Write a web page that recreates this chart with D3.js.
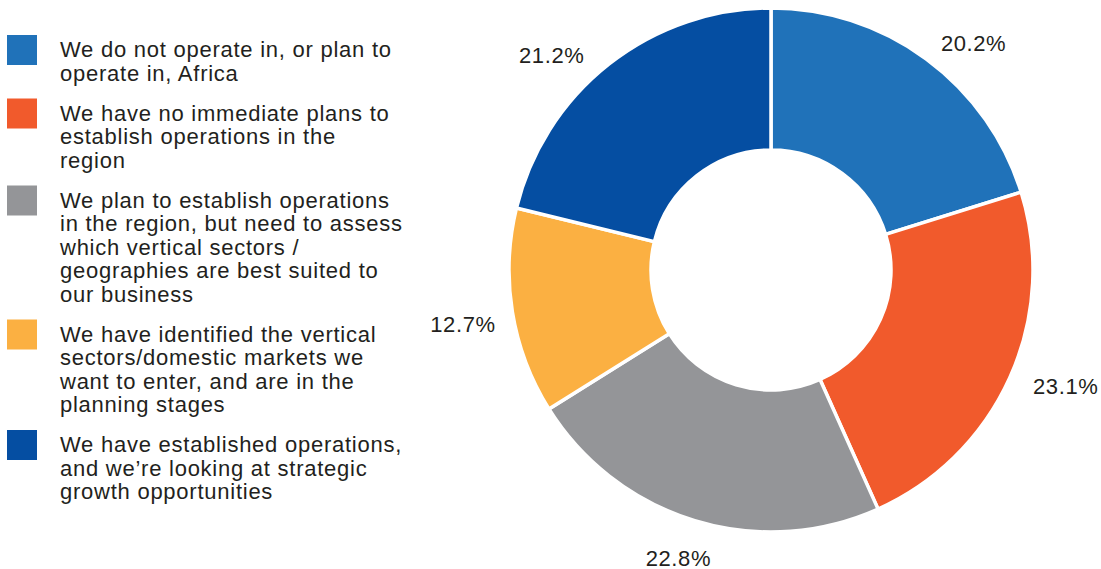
<!DOCTYPE html>
<html>
<head>
<meta charset="utf-8">
<script src="https://cdn.jsdelivr.net/npm/d3@7"></script>
<style>
  html, body { margin: 0; padding: 0; background: #ffffff; }
  svg { display: block; }
  text { font-family: "Liberation Sans", Arial, Helvetica, sans-serif; fill: #231f20; }
</style>
</head>
<body>
<svg id="chart" width="1101" height="569"></svg>
<script>
// ---- data ----
const categories = [
  "We do not operate in, or plan to operate in, Africa",
  "We have no immediate plans to establish operations in the region",
  "We plan to establish operations in the region, but need to assess which vertical sectors / geographies are best suited to our business",
  "We have identified the vertical sectors/domestic markets we want to enter, and are in the planning stages",
  "We have established operations, and we\u2019re looking at strategic growth opportunities"
];
const legendLines = [
  ["We do not operate in, or plan to", "operate in, Africa"],
  ["We have no immediate plans to", "establish operations in the", "region"],
  ["We plan to establish operations", "in the region, but need to assess", "which vertical sectors /", "geographies are best suited to", "our business"],
  ["We have identified the vertical", "sectors/domestic markets we", "want to enter, and are in the", "planning stages"],
  ["We have established operations,", "and we\u2019re looking at strategic", "growth opportunities"]
];
const values = [20.2, 23.1, 22.8, 12.7, 21.2];
const valueLabels = ["20.2%", "23.1%", "22.8%", "12.7%", "21.2%"];

// ---- styles / layout ----
const colors = ["#2072b9", "#f15a2c", "#949598", "#fbb042", "#054ea2"];
const cx = 771, cy = 270, outerR = 262, innerR = 120, labelR = 308;
const labelNudge = [[20, 21], [14, -11], [-3, -7], [-4, 5], [-29, 27]];

const svg = d3.select("#chart");
const color = d3.scaleOrdinal().domain(categories).range(colors);

const pie = d3.pie().sort(null).value(d => d.value);
const data = categories.map((c, i) => ({ cat: c, value: values[i], label: valueLabels[i], i }));
const arcs = pie(data);
const arc = d3.arc().innerRadius(innerR).outerRadius(outerR);
const labelArc = d3.arc().innerRadius(labelR).outerRadius(labelR);

const g = svg.append("g").attr("transform", `translate(${cx},${cy})`);
g.selectAll("path.slice")
  .data(arcs)
  .join("path")
  .attr("class", "slice")
  .attr("d", arc)
  .attr("fill", d => color(d.data.cat))
  .attr("stroke", "#ffffff")
  .attr("stroke-width", 3.5)
  .attr("stroke-linejoin", "miter");

g.selectAll("text.val")
  .data(arcs)
  .join("text")
  .attr("class", "val")
  .attr("x", d => labelArc.centroid(d)[0] + labelNudge[d.data.i][0])
  .attr("y", d => labelArc.centroid(d)[1] + labelNudge[d.data.i][1])
  .attr("dy", "0.36em")
  .attr("text-anchor", "middle")
  .style("font-size", "22px")
  .style("letter-spacing", "0.6px")
  .text(d => d.data.label);

// ---- legend ----
const lineH = 23.5, swatch = 30, gap = 16.5;
const legend = svg.append("g");
let itemTop = 35;
legendLines.forEach((lines, i) => {
  const item = legend.append("g").attr("transform", `translate(0,${itemTop})`);
  item.append("rect")
    .attr("x", 7).attr("y", 0)
    .attr("width", swatch).attr("height", swatch)
    .attr("fill", color(categories[i]));
  const t = item.append("text")
    .attr("x", 60).attr("y", 22)
    .style("font-size", "22px")
    .style("letter-spacing", "0.75px");
  lines.forEach((ln, j) => {
    t.append("tspan").attr("x", 60).attr("y", 22 + j * lineH).text(ln);
  });
  itemTop += lines.length * lineH + gap;
});
</script>
</body>
</html>
